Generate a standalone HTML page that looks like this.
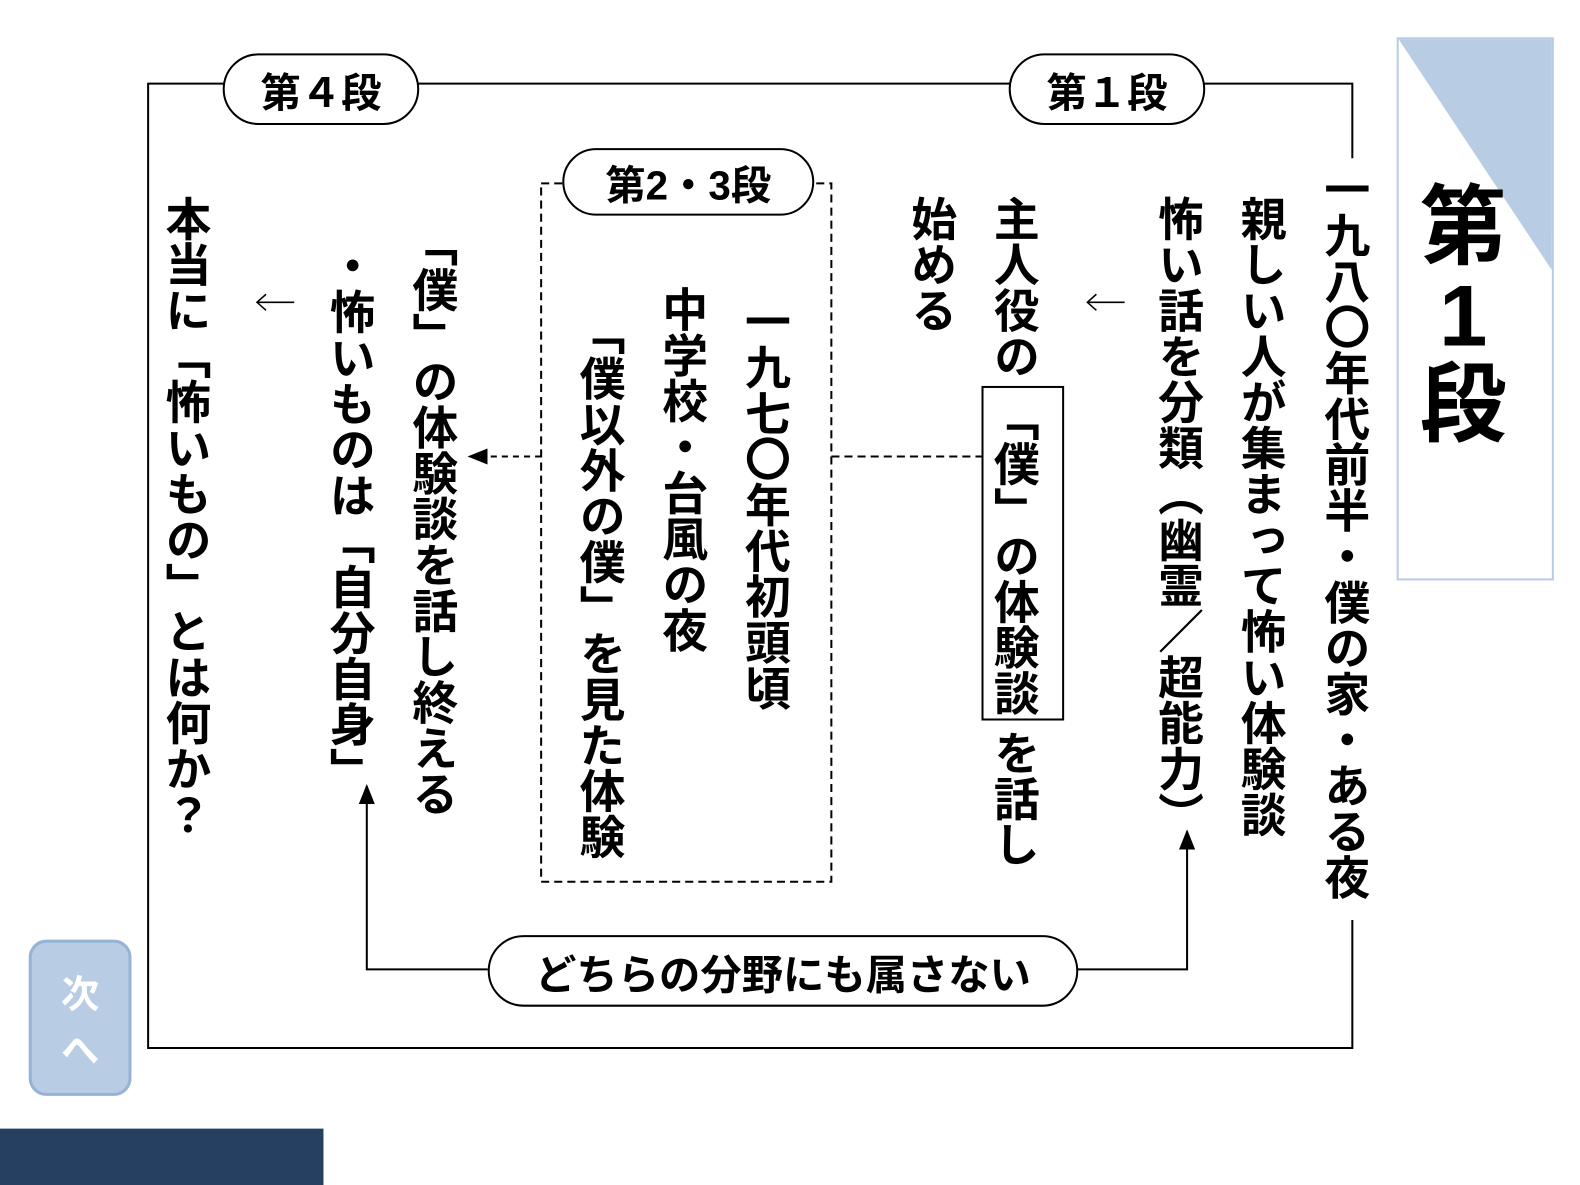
<!DOCTYPE html>
<html><head><meta charset="utf-8"><style>
html,body{margin:0;padding:0;background:#fff;width:1580px;height:1185px;overflow:hidden}
#w{position:absolute;left:0;top:0;width:1568px;height:1176px;transform:scale(1.0077);transform-origin:0 0;font-family:"Liberation Sans","Noto Sans CJK JP",sans-serif}
.c{position:absolute;writing-mode:vertical-rl;font-size:45.5px;font-weight:bold;line-height:46px;width:46px;white-space:nowrap;color:#000}
.pill{position:absolute;border:2px solid #000;border-radius:36px;background:#fff;box-sizing:border-box;display:flex;align-items:center;justify-content:center;font-weight:bold;font-size:40px;color:#000}
</style></head><body><div id="w">
<svg width="1568" height="1176" style="position:absolute;left:0;top:0">
<defs><marker id="ah" markerWidth="10" markerHeight="10" refX="9" refY="5" orient="auto"><path d="M0,1 L10,5 L0,9 z" fill="#000"/></marker></defs>
<g stroke="#000" stroke-width="2" fill="none">
<polyline points="1342,157 1342,83 147,83 147,1040 1342,1040 1342,913"/>
<rect x="537" y="182" width="288" height="693" stroke-dasharray="8,5"/>
<line x1="825" y1="453" x2="975" y2="453" stroke-dasharray="8,5"/>
<line x1="537" y1="453" x2="466" y2="453" stroke-dasharray="6,5" marker-end="url(#ah)"/>
<rect x="975" y="384" width="80" height="330"/>
<polyline points="484,962 364,962 364,780" marker-end="url(#ah)"/>
<polyline points="1069,962 1178,962 1178,825" marker-end="url(#ah)"/>
</g>
<g stroke="#000" stroke-width="1.5" fill="none">
<line x1="1079" y1="300" x2="1116" y2="300"/><polyline points="1088,292 1079,300 1088,308"/>
<line x1="255" y1="300" x2="292" y2="300"/><polyline points="264,292 255,300 264,308"/>
</g>
<rect x="1387" y="38" width="154" height="537" fill="#fff" stroke="#b8cce4" stroke-width="2"/>
<polygon points="1388,39 1540,39 1540,268" fill="#b8cce4"/>
<rect x="0" y="1120" width="321" height="56" fill="#264061"/>
<rect x="30" y="934" width="99" height="152" rx="16" fill="#b8cce4" stroke="#95b3d7" stroke-width="3"/>
</svg>
<div style="position:absolute;left:1392px;top:182px;width:120px;text-align:center;font-size:86px;font-weight:bold;line-height:88px">第<br>1<br>段</div>
<div style="position:absolute;left:30px;top:960px;width:99px;text-align:center;color:#fff;font-size:38px;font-weight:bold;line-height:56px">次<br>へ</div>
<div class="pill" style="left:221px;top:53px;width:195px;height:71px">第４段</div>
<div class="pill" style="left:1001px;top:53px;width:195px;height:71px">第１段</div>
<div class="pill" style="left:558px;top:147px;width:250px;height:67px">第2・3段</div>
<div class="pill" style="left:484px;top:928px;width:586px;height:71px;font-size:41px">どちらの分野にも属さない</div>
<div class="c" style="left:1310px;top:165px">一九八〇年代前半・僕の家・ある夜</div>
<div class="c" style="left:1227px;top:194px">親しい人が集まって怖い体験談</div>
<div class="c" style="left:1145px;top:194px">怖い話を分類（幽霊／超能力）</div>
<div class="c" style="left:982px;top:194px">主人役の</div>
<div class="c" style="left:982px;top:392px">「僕」の体験談</div>
<div class="c" style="left:982px;top:724px">を話し</div>
<div class="c" style="left:900px;top:194px">始める</div>
<div class="c" style="left:735px;top:296px">一九七〇年代初頭頃</div>
<div class="c" style="left:653px;top:284px">中学校・台風の夜</div>
<div class="c" style="left:571px;top:307px">「僕以外の僕」を見た体験</div>
<div class="c" style="left:405px;top:219px">「僕」の体験談を話し終える</div>
<div class="c" style="left:323px;top:241px">・怖いものは「自分自身」</div>
<div class="c" style="left:160px;top:194px">本当に「怖いもの」とは何か？</div>
</div></body></html>
